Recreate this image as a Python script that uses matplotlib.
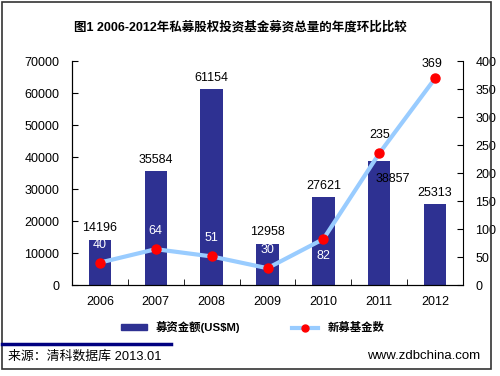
import matplotlib
matplotlib.use("Agg")
import matplotlib.pyplot as plt
from matplotlib.patches import Rectangle
from matplotlib.lines import Line2D

plt.rcParams['font.family'] = ['Liberation Sans', 'Noto Sans CJK SC', 'DejaVu Sans']

years = ['2006', '2007', '2008', '2009', '2010', '2011', '2012']
amounts = [14196, 35584, 61154, 12958, 27621, 38857, 25313]
fund_counts = [40, 64, 51, 30, 82, 235, 369]
title = '图1 2006-2012年私募股权投资基金募资总量的年度环比比较'
bar_label = '募资金额(US$M)'
line_label = '新募基金数'
source = '来源：清科数据库 2013.01'
site = 'www.zdbchina.com'

BAR = '#2E3192'
LINE = '#99CCFF'
W, H = 500, 376

fig = plt.figure(figsize=(5, 3.76), dpi=100)
ax = fig.add_axes([72/W, 1-285/H, (463-72)/W, (285-61)/H])
x = list(range(len(years)))
ax.bar(x, amounts, width=0.4, color=BAR, zorder=2)
ax.set_xlim(-0.5, len(years)-0.5)
ax.set_ylim(0, 70000)
ax.set_yticks(range(0, 70001, 10000))
ax.set_xticks(x)
ax.set_xticklabels(years)
ax.set_xticks([i+0.5 for i in range(len(years)-1)], minor=True)
ax.tick_params(axis='x', which='major', length=0, pad=8, labelsize=9)
ax.tick_params(axis='x', which='minor', direction='in', length=4)
ax.tick_params(axis='y', direction='in', length=4, pad=9, labelsize=9)
ax.spines['top'].set_visible(False)
ax.spines['right'].set_visible(False)

ax2 = ax.twinx()
ax2.set_ylim(0, 400)
ax2.set_yticks(range(0, 401, 50))
ax2.tick_params(axis='y', direction='in', length=4, pad=9, labelsize=9)
ax2.spines['top'].set_visible(False)
ax2.plot(x, fund_counts, color=LINE, lw=3, marker='o', markersize=6.5,
         markerfacecolor='red', markeredgecolor='red', zorder=3)

# bar labels
for i, v in enumerate(amounts):
    if i == 5:
        ax.annotate(str(v), (i, v), xytext=(10, -13), textcoords='offset points',
                    ha='center', va='center', fontsize=9, color='black')
    else:
        ax.annotate(str(v), (i, v), xytext=(0, 8), textcoords='offset points',
                    ha='center', va='center', fontsize=9, color='black')

# line labels
for i, v in enumerate(fund_counts):
    if i == 4:
        off, col = (0, -12), 'white'
    elif i == 5:
        off, col = (0, 13), 'black'
    elif i == 6:
        off, col = (-2, 10), 'black'
    else:
        off, col = (0, 13), 'white'
    ax2.annotate(str(v), (i, v), xytext=off, textcoords='offset points',
                 ha='center', va='center', fontsize=9, color=col)

fig.text(240/W, 1-27/H, title, ha='center', va='center', fontsize=9,
         fontweight='bold', family=['Liberation Sans', 'Noto Sans CJK SC'])

handles = [Rectangle((0, 0), 1, 1, color=BAR),
           Line2D([0], [0], color=LINE, lw=3, marker='o', markersize=5,
                  markerfacecolor='red', markeredgecolor='red')]
leg = fig.legend(handles, [bar_label, line_label], loc='center',
                 bbox_to_anchor=(0.505, 1-327/H), ncol=2, frameon=False,
                 handlelength=2.3, handleheight=0.4, columnspacing=4.5,
                 prop={'size': 8.2, 'weight': 'bold'})

# border and footer
fig.patches.append(Rectangle((2/W, 1-369/H), 489/W, 367/H, transform=fig.transFigure,
                             fill=False, edgecolor='#333333', lw=1.2))
fig.lines.append(Line2D([2/W, 171/W], [1-344/H, 1-344/H], transform=fig.transFigure,
                        color='#000080', lw=2.5))
fig.text(8/W, 1-356/H, source, ha='left', va='center', fontsize=9.3,
         family=['Liberation Sans', 'Noto Sans CJK SC'])
fig.text(480/W, 1-356/H, site, ha='right', va='center', fontsize=9.5)

fig.savefig('out.png', dpi=100)
